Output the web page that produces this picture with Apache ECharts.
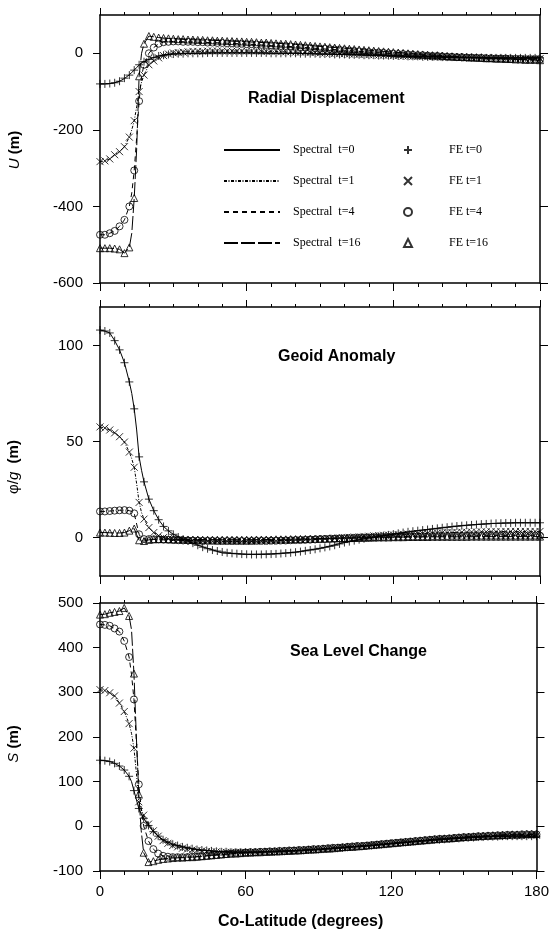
<!DOCTYPE html>
<html>
<head>
<meta charset="utf-8">
<script src="https://cdn.jsdelivr.net/npm/echarts@6/dist/echarts.min.js"></script>
<style>html,body{margin:0;padding:0;background:#fff}#c{width:552px;height:934px}</style>
</head>
<body>
<div id="c"></div>
<script>
// ---------- DATA ----------
const specLat = [0,2,4,6,8,10,12,13,14,15,16,17,18,20,22,24,26,28,30,35,40,50,60,70,80,90,100,110,120,130,140,150,160,170,180];
const feLat = [0,2,4,6,8,10,12,14,16,18,20,22,24,26,28,30,32,34,36,38,40,42,44,46,48,50,52,54,56,58,60,62,64,66,68,70,72,74,76,78,80,82,84,86,88,90,92,94,96,98,100,102,104,106,108,110,112,114,116,118,120,122,124,126,128,130,132,134,136,138,140,142,144,146,148,150,152,154,156,158,160,162,164,166,168,170,172,174,176,178,180];

// Radial displacement U (m)
const spU0 = [-80,-80,-79,-77,-73,-66,-56,-50,-44,-37,-31,-26,-22,-16,-11,-7,-5,-3,-2,-1,0,1,1,0,0,-2,-3,-5,-7,-8,-10,-11,-12,-12,-12];
const spU1 = [-283,-281,-276,-265,-257,-244,-219,-200,-176,-140,-100,-75,-57,-30,-20,-12,-6,-2,1,4,5,6,6,5,3,1,-1,-4,-6,-8,-10,-12,-13,-14,-14];
const spU4 = [-474,-474,-470,-464,-452,-435,-400,-365,-306,-220,-125,-60,-30,0,15,25,29,30,31,30,29,27,24,20,17,12,8,3,-1,-5,-8,-11,-13,-15,-16];
const spU16 = [-509,-509,-509,-510,-512,-522,-507,-470,-378,-250,-60,0,25,45,43,41,40,39,38,36,35,33,30,27,23,18,13,8,3,-2,-6,-10,-13,-16,-18];
const feU0 = [-80,-80,-79,-77,-73,-65,-57,-44,-30,-22,
  -16,-11,-7,-5,-3,-2,-1,-1,0,0,
  0,0,1,1,1,1,1,1,1,1,
  1,1,1,1,1,0,0,0,0,0,
  0,-1,-1,-1,-1,-2,-2,-2,-3,-3,
  -3,-4,-4,-4,-5,-5,-5,-6,-6,-6,
  -7,-7,-7,-8,-8,-8,-9,-9,-9,-9,
  -10,-10,-10,-10,-11,-11,-11,-11,-11,-12,
  -12,-12,-12,-12,-12,-12,-12,-12,-12,-12,
  -12];
const feU1 = [-283,-281,-276,-265,-257,-244,-219,-176,-100,-57,
  -30,-20,-12,-6,-2,1,2,3,4,5,
  5,5,6,6,6,6,6,6,6,6,
  6,6,6,5,5,5,5,4,4,4,
  3,3,3,2,2,1,1,0,0,-1,
  -1,-2,-2,-3,-3,-4,-4,-5,-5,-5,
  -6,-6,-7,-7,-8,-8,-8,-9,-9,-10,
  -10,-10,-11,-11,-11,-12,-12,-12,-12,-13,
  -13,-13,-13,-13,-14,-14,-14,-14,-14,-14,
  -14];
const feU4 = [-474,-474,-470,-464,-452,-435,-400,-306,-125,-30,
  0,15,25,29,30,31,31,30,30,30,
  29,29,28,28,27,27,26,26,25,25,
  24,24,23,22,22,21,20,19,19,18,
  17,16,15,14,13,12,12,11,10,9,
  8,7,6,5,4,3,2,2,1,0,
  -1,-2,-2,-3,-4,-5,-5,-6,-7,-7,
  -8,-9,-9,-10,-10,-11,-11,-12,-12,-13,
  -13,-14,-14,-14,-15,-15,-15,-16,-16,-16,
  -16];
const feU16 = [-509,-509,-509,-510,-512,-522,-507,-378,-60,25,
  45,43,41,40,39,38,37,37,36,36,
  35,35,34,34,33,33,32,32,31,31,
  30,30,29,28,28,27,26,25,25,24,
  23,22,21,20,19,18,17,16,15,14,
  13,12,11,10,9,8,7,6,5,4,
  3,2,1,0,-1,-2,-3,-4,-5,-5,
  -6,-7,-8,-9,-9,-10,-11,-11,-12,-13,
  -13,-14,-14,-15,-15,-16,-16,-17,-17,-17,
  -18];

// Geoid anomaly phi/g (m)
const spG0 = [108,107.5,106.5,102.5,97.7,91,81,75,67,56,42,35,29,20,14,9.3,5.8,3.5,1.7,-1.3,-4.0,-8.0,-8.7,-8.5,-7.6,-5.6,-2.6,-0.2,1.8,3.6,5.1,6.4,7.3,7.7,7.7];
const spG1 = [57.6,57,56,54.5,52.5,49.7,44.5,41,36.6,28,18.3,13,9.6,5.2,2.6,1.0,0,-0.5,-1,-1.4,-1.7,-2.0,-2.0,-1.8,-1.3,-0.7,0,0.7,1.4,2.0,2.5,2.8,3.1,3.2,3.2];
const spG4 = [13.6,13.6,13.8,14.0,14.2,14.3,14.0,13.6,12.6,7,1.7,-0.5,-0.8,-0.8,-0.9,-1.0,-1.2,-1.4,-1.5,-1.6,-1.6,-1.8,-1.8,-1.6,-1.3,-0.9,-0.4,0.1,0.4,0.7,0.8,0.9,1.0,1.0,1.0];
const spG16 = [2.6,2.6,2.5,2.4,2.4,2.6,3.6,4.2,4.7,1.5,-1.4,-1.7,-1.8,-1.2,-0.9,-0.8,-0.8,-0.9,-0.9,-1.0,-1.0,-1.1,-1.1,-1.0,-0.8,-0.5,-0.3,0,0.2,0.3,0.4,0.4,0.5,0.5,0.5];
const feG0 = [108,107.5,106.5,102.5,97.7,91,81,67,42,29,
  20,14,9.3,5.8,3.5,1.7,0.3,-0.8,-1.8,-2.9,
  -4.0,-5.0,-5.8,-6.5,-7.0,-7.5,-7.9,-8.2,-8.4,-8.6,
  -8.7,-8.8,-8.8,-8.8,-8.7,-8.6,-8.5,-8.3,-8.1,-7.9,
  -7.6,-7.3,-6.9,-6.5,-6.1,-5.6,-5.1,-4.6,-4.0,-3.3,
  -2.6,-2.1,-1.6,-1.1,-0.6,-0.2,0.2,0.6,1.0,1.4,
  1.8,2.2,2.6,3.0,3.3,3.6,3.9,4.2,4.5,4.8,
  5.1,5.4,5.7,6.0,6.2,6.4,6.6,6.8,7.0,7.1,
  7.3,7.4,7.5,7.6,7.6,7.7,7.7,7.7,7.7,7.7,
  7.7];
const feG1 = [57.6,57,56,54.5,52.5,49.7,44.5,36.6,18.3,9.6,
  5.2,2.6,1.0,0,-0.5,-1,-1.2,-1.4,-1.5,-1.6,
  -1.7,-1.8,-1.9,-1.9,-2.0,-2.0,-2.0,-2.0,-2.0,-2.0,
  -2.0,-2.0,-1.9,-1.9,-1.8,-1.8,-1.7,-1.6,-1.5,-1.4,
  -1.3,-1.2,-1.1,-1.0,-0.9,-0.7,-0.6,-0.5,-0.3,-0.2,
  0,0.1,0.3,0.4,0.6,0.7,0.9,1.0,1.2,1.3,
  1.4,1.6,1.7,1.8,1.9,2.0,2.1,2.2,2.3,2.4,
  2.5,2.6,2.6,2.7,2.8,2.8,2.9,2.9,3.0,3.0,
  3.1,3.1,3.1,3.2,3.2,3.2,3.2,3.2,3.2,3.2,
  3.2];
const feG4 = [13.6,13.6,13.8,14.0,14.2,14.3,14.0,12.6,1.7,-0.8,
  -0.8,-0.9,-1.0,-1.1,-1.2,-1.3,-1.4,-1.5,-1.5,-1.6,
  -1.6,-1.7,-1.7,-1.7,-1.8,-1.8,-1.8,-1.8,-1.8,-1.8,
  -1.8,-1.8,-1.7,-1.7,-1.7,-1.6,-1.6,-1.5,-1.5,-1.4,
  -1.3,-1.3,-1.2,-1.1,-1.0,-0.9,-0.8,-0.7,-0.6,-0.5,
  -0.4,-0.3,-0.2,-0.1,0,0.1,0.2,0.2,0.3,0.4,
  0.4,0.5,0.5,0.6,0.6,0.7,0.7,0.7,0.8,0.8,
  0.8,0.8,0.9,0.9,0.9,0.9,0.9,0.9,1.0,1.0,
  1.0,1.0,1.0,1.0,1.0,1.0,1.0,1.0,1.0,1.0,
  1.0];
const feG16 = [2.6,2.6,2.5,2.4,2.4,2.6,3.6,4.7,-1.4,-1.8,
  -1.2,-0.9,-0.8,-0.8,-0.8,-0.9,-0.9,-1.0,-1.0,-1.0,
  -1.0,-1.1,-1.1,-1.1,-1.1,-1.1,-1.1,-1.1,-1.1,-1.1,
  -1.1,-1.1,-1.0,-1.0,-1.0,-1.0,-0.9,-0.9,-0.9,-0.8,
  -0.8,-0.7,-0.7,-0.6,-0.6,-0.5,-0.5,-0.4,-0.4,-0.3,
  -0.3,-0.2,-0.2,-0.1,-0.1,0,0,0.1,0.1,0.1,
  0.2,0.2,0.2,0.3,0.3,0.3,0.3,0.3,0.4,0.4,
  0.4,0.4,0.4,0.4,0.4,0.4,0.5,0.5,0.5,0.5,
  0.5,0.5,0.5,0.5,0.5,0.5,0.5,0.5,0.5,0.5,
  0.5];

// Sea level change S (m)
const spS0 = [148,147,145,141,135,126,112,100,80,60,40,28,18,2,-12,-22,-30,-35,-40,-47,-52,-57,-58,-56,-55,-52,-48,-44,-39,-34,-30,-26,-23,-22,-22];
const spS1 = [306,304,299,292,276,257,230,208,175,120,55,38,25,5,-10,-22,-32,-38,-43,-50,-54,-57,-58,-57,-55,-52,-47,-43,-38,-34,-29,-26,-23,-21,-20];
const spS4 = [452,451,449,443,436,415,379,340,284,190,94,40,1,-33,-51,-61,-66,-68,-69,-69,-68,-63,-59,-56,-54,-51,-47,-43,-38,-33,-28,-24,-21,-19,-18];
const spS16 = [474,475,478,480,482,489,471,440,342,200,72,-10,-59,-80,-78,-75,-73,-72,-71,-70,-68,-63,-59,-57,-54,-51,-47,-43,-38,-33,-28,-24,-21,-18,-17];
const feS0 = [148,147,145,141,135,126,112,80,40,18,
  2,-12,-22,-30,-35,-40,-43,-46,-48,-50,
  -52,-53,-54,-55,-56,-57,-57,-58,-58,-58,
  -58,-58,-58,-58,-57,-57,-57,-56,-56,-55,
  -55,-54,-54,-53,-52,-52,-51,-50,-50,-49,
  -48,-47,-46,-45,-45,-44,-43,-42,-41,-40,
  -39,-38,-37,-36,-35,-34,-33,-32,-31,-30,
  -30,-29,-28,-27,-27,-26,-25,-25,-24,-24,
  -23,-23,-23,-22,-22,-22,-22,-22,-22,-22,
  -22];
const feS1 = [306,304,299,292,276,257,230,175,55,25,
  5,-10,-22,-32,-38,-43,-46,-49,-51,-53,
  -54,-55,-56,-57,-57,-58,-58,-58,-58,-58,
  -58,-58,-58,-58,-57,-57,-57,-56,-56,-55,
  -55,-54,-53,-53,-52,-51,-51,-50,-49,-48,
  -47,-47,-46,-45,-44,-43,-42,-41,-40,-39,
  -38,-37,-36,-35,-35,-34,-33,-32,-31,-30,
  -29,-28,-28,-27,-26,-26,-25,-24,-24,-23,
  -23,-22,-22,-22,-21,-21,-21,-21,-20,-20,
  -20];
const feS4 = [452,451,449,443,436,415,379,284,94,1,
  -33,-51,-61,-66,-68,-69,-69,-69,-69,-68,
  -68,-67,-66,-65,-64,-63,-62,-61,-60,-60,
  -59,-58,-58,-57,-57,-56,-56,-55,-55,-54,
  -54,-53,-53,-52,-51,-51,-50,-49,-48,-48,
  -47,-46,-45,-44,-44,-43,-42,-41,-40,-39,
  -38,-37,-36,-35,-34,-33,-32,-31,-30,-29,
  -28,-28,-27,-26,-25,-24,-24,-23,-22,-22,
  -21,-21,-20,-20,-19,-19,-19,-18,-18,-18,
  -18];
const feS16 = [474,475,478,480,482,489,471,342,72,-59,
  -80,-78,-75,-73,-72,-71,-70,-70,-69,-69,
  -68,-67,-66,-65,-64,-63,-62,-61,-61,-60,
  -59,-59,-58,-58,-57,-57,-56,-56,-55,-55,
  -54,-54,-53,-52,-52,-51,-50,-50,-49,-48,
  -47,-46,-46,-45,-44,-43,-42,-41,-40,-39,
  -38,-37,-36,-35,-34,-33,-32,-31,-30,-29,
  -28,-27,-27,-26,-25,-24,-23,-23,-22,-21,
  -21,-20,-20,-19,-19,-18,-18,-18,-17,-17,
  -17];

const spectralNames = ['Spectral  t=0','Spectral  t=1','Spectral  t=4','Spectral  t=16'];
const feNames = ['FE t=0','FE t=1','FE t=4','FE t=16'];
const xTicks = [0,60,120,180];
const yTicksU = [-600,-400,-200,0];
const yTicksG = [0,50,100];
const yTicksS = [-100,0,100,200,300,400,500];
const panelTitles = ['Radial Displacement','Geoid Anomaly','Sea Level Change'];

// ---------- CHART ----------
const SANS = 'Liberation Sans, Arial, sans-serif';
const SERIF = 'Liberation Serif, Times New Roman, serif';
const panels = [
  {sp:[spU0,spU1,spU4,spU16], fe:[feU0,feU1,feU4,feU16], min:-600, max:100, ticks:yTicksU},
  {sp:[spG0,spG1,spG4,spG16], fe:[feG0,feG1,feG4,feG16], min:-20, max:120, ticks:yTicksG},
  {sp:[spS0,spS1,spS4,spS16], fe:[feS0,feS1,feS4,feS16], min:-100, max:500, ticks:yTicksS}
];
const grids = [
  {left:100, top:15, width:440, height:268},
  {left:100, top:307, width:440, height:269},
  {left:100, top:603, width:440, height:268}
];
const lineTypes = ['solid',[3,1.5,1,1.5],[5,4],[14,3]];
const feSymbols = ['path://M5,0L5,10M0,5L10,5','path://M0,0L10,10M10,0L0,10','circle','triangle'];
const feSizes = [8,7,7,7];
const pairs = (xs, ys) => xs.map((x, i) => [x, ys[i]]);

const xAxes = [], yAxes = [], series = [];
const axisLineStyle = {color:'#000', width:1.5};
panels.forEach((p, g) => {
  xAxes.push({gridIndex:g, type:'value', min:0, max:180, interval:60, position:'bottom',
    axisLine:{onZero:false, lineStyle:axisLineStyle},
    axisTick:{show:true, length:8, lineStyle:{color:'#000', width:1}},
    minorTick:{show:true, splitNumber:6, length:4, lineStyle:{color:'#000', width:1}},
    axisLabel:{show:g===2, color:'#000', fontFamily:SANS, fontSize:15, margin:13, customValues:xTicks},
    splitLine:{show:false}, minorSplitLine:{show:false}});
  xAxes.push({gridIndex:g, type:'value', min:0, max:180, interval:60, position:'top',
    axisLine:{onZero:false, lineStyle:axisLineStyle},
    axisTick:{show:true, length:7, lineStyle:{color:'#000', width:1}},
    minorTick:{show:true, splitNumber:6, length:3, lineStyle:{color:'#000', width:1}},
    axisLabel:{show:false}, splitLine:{show:false}});
  yAxes.push({gridIndex:g, type:'value', min:p.min, max:p.max, position:'left',
    axisLine:{onZero:false, lineStyle:axisLineStyle},
    axisTick:{show:true, length:7, customValues:p.ticks, lineStyle:{color:'#000', width:1}},
    axisLabel:{color:'#000', fontFamily:SANS, fontSize:15, margin:17, customValues:p.ticks},
    splitLine:{show:false}});
  yAxes.push({gridIndex:g, type:'value', min:p.min, max:p.max, position:'right',
    axisLine:{onZero:false, lineStyle:axisLineStyle},
    axisTick:{show:true, length:8, customValues:p.ticks, lineStyle:{color:'#000', width:1}},
    axisLabel:{show:false}, splitLine:{show:false}});
  p.sp.forEach((arr, k) => {
    series.push({type:'line', name:spectralNames[k], xAxisIndex:2*g, yAxisIndex:2*g,
      data:pairs(specLat, arr), symbol:'none', silent:true, clip:false,
      itemStyle:{color:'#000'},
      lineStyle:{color:'#000', width:1, type:lineTypes[k]}, z:2});
  });
  p.fe.forEach((arr, k) => {
    series.push({type:'scatter', name:feNames[k], xAxisIndex:2*g, yAxisIndex:2*g,
      data:pairs(feLat, arr), symbol:feSymbols[k], symbolSize:feSizes[k], silent:true, clip:false,
      itemStyle:{color:'rgba(0,0,0,0)', borderColor:'#000', borderWidth:1}, z:3});
  });
});

const titleY = [100, 358, 653];
const titleX = [248, 278, 290];
const graphics = panelTitles.map((t, i) => ({type:'text', left:titleX[i], top:titleY[i]-9,
  style:{text:t, fill:'#000', font:'bold 16px ' + SANS}}));
const yNames = [
  {text:'{i|U} {b|(m)}', x:15, y:150},
  {text:'φ/{i|g}  {b|(m)}', x:14, y:467},
  {text:'{i|S} {b|(m)}', x:14, y:744}
];
const rich = {i:{fontStyle:'italic', fontSize:15, fontFamily:SANS, fill:'#000'},
              b:{fontWeight:'bold', fontSize:15, fontFamily:SANS, fill:'#000'}};
yNames.forEach(n => graphics.push({type:'text', x:n.x, y:n.y, rotation:Math.PI/2,
  style:{text:n.text, rich:rich, fill:'#000', font:'15px ' + SANS, align:'center', verticalAlign:'middle'}}));
graphics.push({type:'text', left:218, top:914, style:{text:'Co-Latitude (degrees)', fill:'#000', font:'bold 16px ' + SANS}});

const chart = echarts.init(document.getElementById('c'), null, {renderer:'canvas'});
chart.setOption({
  animation:false,
  backgroundColor:'#fff',
  grid:grids,
  xAxis:xAxes,
  yAxis:yAxes,
  legend:[
    {data:spectralNames, orient:'vertical', left:223, top:144, padding:0, itemWidth:56, itemHeight:8, itemGap:19,
      selectedMode:false, itemStyle:{opacity:0, color:'rgba(0,0,0,0)', borderWidth:0},
      textStyle:{fontFamily:SERIF, fontSize:12, color:'#000', padding:[0,0,0,8]}},
    {data:feNames, orient:'vertical', left:403, top:144, padding:0, itemWidth:8, itemHeight:8, itemGap:19,
      selectedMode:false, textStyle:{fontFamily:SERIF, fontSize:12, color:'#000', padding:[0,0,0,32]}}
  ],
  graphic:graphics,
  series:series
});
</script>
</body>
</html>
